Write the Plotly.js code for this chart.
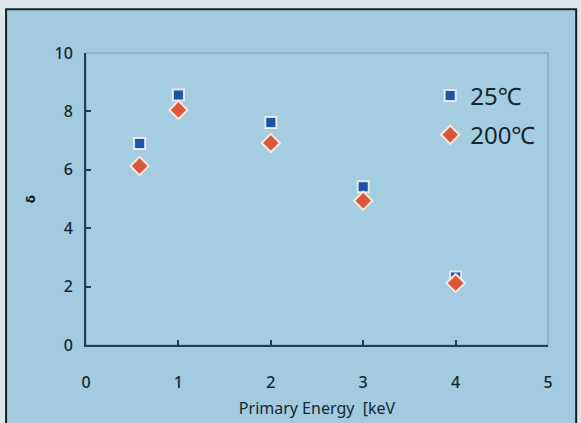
<!DOCTYPE html>
<html>
<head>
<meta charset="utf-8">
<script src="https://cdn.plot.ly/plotly-3.0.1.min.js"></script>
<style>html,body{margin:0;padding:0;background:#dde6ea;}#chart{width:581px;height:423px;}</style>
</head>
<body>
<div id="chart"></div>
<script>
// Data
const energy = [0.58, 1, 2, 3, 4];
const delta25 = [6.9, 8.56, 7.62, 5.42, 2.33];
const delta200 = [6.13, 8.05, 6.92, 4.94, 2.12];
const seriesNames = ['25℃', '200℃'];
const xTicks = [0, 1, 2, 3, 4, 5];
const yTicks = [0, 2, 4, 6, 8, 10];

const bg = '#a2cbe0';
const ink = '#16262f';
const axisLine = '#1e3f4c';

const traces = [
  {
    x: energy, y: delta25, name: seriesNames[0], type: 'scatter', mode: 'markers',
    legendgroup: 'a',
    marker: {symbol: 'square', size: 11, color: '#1d55a6', line: {color: 'rgba(250,245,240,0.85)', width: 2}}
  },
  {
    x: energy, y: delta200, name: seriesNames[1], type: 'scatter', mode: 'markers',
    legendgroup: 'b',
    marker: {symbol: 'diamond', size: 14, color: '#d9573c', line: {color: 'rgba(255,238,225,0.9)', width: 2}}
  }
];

const layout = {
  width: 581, height: 423,
  margin: {l: 86, r: 33, t: 53, b: 78},
  paper_bgcolor: '#dde6ea',
  plot_bgcolor: 'rgba(0,0,0,0)',
  font: {family: 'Noto Sans, sans-serif', color: ink},
  showlegend: true,
  legend: {
    x: 0.745, y: 0.93, xanchor: 'left', yanchor: 'top',
    bgcolor: 'rgba(0,0,0,0)', borderwidth: 0,
    font: {size: 24, color: ink},
    tracegroupgap: 5, traceorder: 'grouped'
  },
  xaxis: {
    range: [0, 5], tickvals: xTicks, ticktext: xTicks.map(String),
    showgrid: false, zeroline: false,
    showline: true, linecolor: axisLine, linewidth: 2,
    ticks: 'inside', ticklen: 5, tickwidth: 2, tickcolor: axisLine,
    ticklabelstandoff: 22,
    tickfont: {size: 16, color: ink, weight: 500},
    title: {text: 'Primary Energy  [keV', font: {size: 16, color: ink}, standoff: 11},
    automargin: false, fixedrange: true
  },
  yaxis: {
    range: [0, 10], tickvals: yTicks, ticktext: yTicks.map(String),
    showgrid: false, zeroline: false,
    showline: true, linecolor: axisLine, linewidth: 2,
    ticks: 'inside', ticklen: 5, tickwidth: 2, tickcolor: axisLine,
    ticklabelstandoff: 8,
    tickfont: {size: 16, color: ink, weight: 500},
    automargin: false, fixedrange: true
  },
  shapes: [
    {type: 'rect', xref: 'paper', yref: 'paper', x0: -0.173, x1: 1.061, y0: -0.3, y1: 1.15,
     layer: 'below', fillcolor: bg, line: {color: '#15202a', width: 2}},
    {type: 'rect', xref: 'paper', yref: 'paper', x0: 0, x1: 1, y0: 0, y1: 1,
     layer: 'below', fillcolor: 'rgba(255,255,255,0.04)', line: {color: 'rgba(70,100,115,0.45)', width: 1}}
  ],
  annotations: [
    {text: 'δ', xref: 'paper', yref: 'paper', x: -0.138, y: 0.5, showarrow: false,
     textangle: -90, font: {size: 12, color: '#111', family: 'DejaVu Sans', weight: 700}}
  ]
};

Plotly.newPlot('chart', traces, layout, {displayModeBar: false, staticPlot: true});
</script>
</body>
</html>
